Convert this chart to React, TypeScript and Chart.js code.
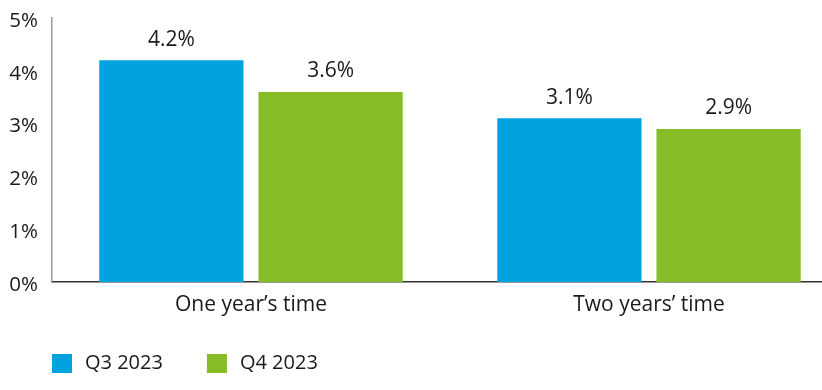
import React, { useEffect, useRef } from "react";
import { Chart, registerables } from "chart.js";

Chart.register(...registerables);

const categories = ["One year\u2019s time", "Two years\u2019 time"];
const seriesNames = ["Q3 2023", "Q4 2023"];
const q3Values = [4.2, 3.1];
const q4Values = [3.6, 2.9];
const seriesColors = ["#00A3E0", "#86BC25"];
const yTicks = [0, 1, 2, 3, 4, 5];

const FONT = "'Open Sans', sans-serif";
const TEXT = "#1a1a1a";

const valueLabelPlugin = {
  id: "valueLabels",
  afterDatasetsDraw(chart: any) {
    const ctx = chart.ctx;
    ctx.save();
    ctx.font = `21px ${FONT}`;
    ctx.fillStyle = TEXT;
    ctx.textAlign = "center";
    ctx.textBaseline = "alphabetic";
    chart.data.datasets.forEach((ds: any, di: number) => {
      const meta = chart.getDatasetMeta(di);
      meta.data.forEach((bar: any, i: number) => {
        const v = ds.data[i];
        ctx.fillText(v.toFixed(1) + "%", bar.x, bar.y - 14.5);
      });
    });
    ctx.restore();
  },
};

const legendPlugin = {
  id: "customLegend",
  afterDraw(chart: any) {
    const ctx = chart.ctx;
    ctx.save();
    ctx.font = `20px ${FONT}`;
    ctx.textBaseline = "middle";
    ctx.textAlign = "left";
    let x = 52;
    const cy = 363.5;
    chart.data.datasets.forEach((ds: any) => {
      ctx.fillStyle = ds.backgroundColor;
      ctx.fillRect(x, 354, 20, 19);
      ctx.fillStyle = TEXT;
      ctx.fillText(ds.label, x + 33, cy);
      const w = ctx.measureText(ds.label).width;
      x += 33 + w + 44;
    });
    ctx.restore();
  },
};

export default function App() {
  const ref = useRef<HTMLCanvasElement>(null);
  useEffect(() => {
    if (!ref.current) return;
    const chart = new Chart(ref.current, {
      type: "bar",
      data: {
        labels: categories,
        datasets: [
          { label: seriesNames[0], data: q3Values, backgroundColor: seriesColors[0] },
          { label: seriesNames[1], data: q4Values, backgroundColor: seriesColors[1] },
        ],
      },
      options: {
        responsive: false,
        animation: false,
        layout: { padding: { left: 5, top: 18, right: 0, bottom: 0 } },
        datasets: {
          bar: { categoryPercentage: 0.8, barPercentage: 0.906 },
        },
        plugins: {
          legend: { display: false },
          tooltip: { enabled: false },
        },
        scales: {
          x: {
            grid: { display: false, drawTicks: false },
            border: { display: true, color: "#333333", width: 1.5 },
            ticks: { padding: 10, color: TEXT, font: { family: FONT, size: 21 } },
            afterFit(scale: any) {
              scale.height = 108;
            },
          },
          y: {
            min: 0,
            max: 5,
            afterBuildTicks(scale: any) {
              scale.ticks = yTicks.map((v) => ({ value: v }));
            },
            grid: { display: false, drawTicks: false },
            border: { display: true, color: "#999999", width: 1.5 },
            ticks: {
              padding: 14,
              labelOffset: 3,
              color: TEXT,
              font: { family: FONT, size: 20.5 },
              callback: (v: any) => v + "%",
            },
            afterFit(scale: any) {
              scale.width = 47;
              scale.paddingTop = 0;
              scale.paddingBottom = 0;
            },
          },
        },
      },
      plugins: [valueLabelPlugin, legendPlugin],
    });
    return () => chart.destroy();
  }, []);
  return (
    <div style={{ position: "fixed", left: 0, top: 0, right: 0, bottom: 0, overflow: "hidden", background: "#fff" }}>
      <canvas ref={ref} width={848} height={390} style={{ display: "block" }} />
    </div>
  );
}
